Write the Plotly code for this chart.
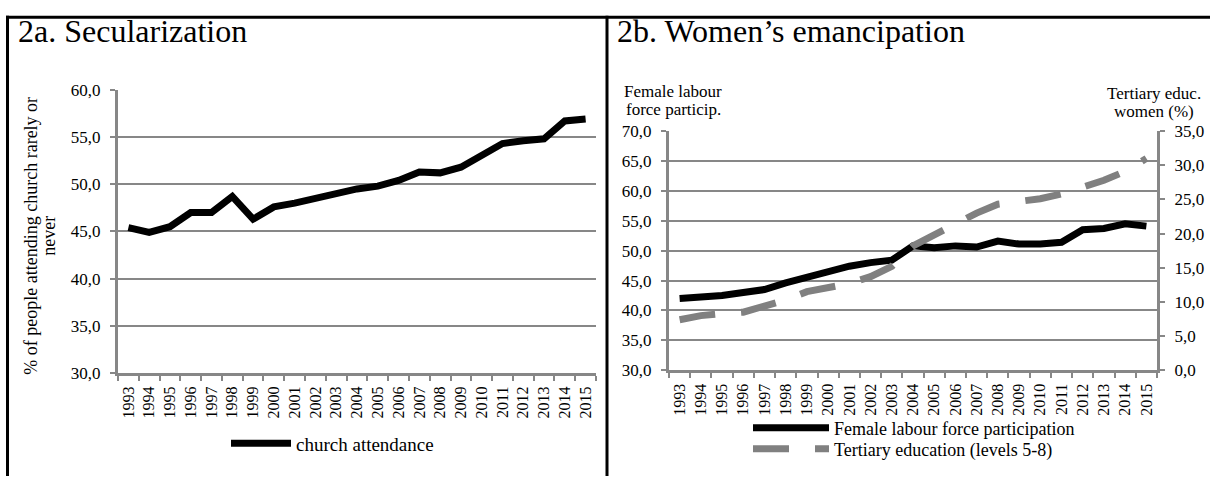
import plotly.graph_objects as go

W, H = 1210, 486

years = [str(y) for y in range(1993, 2016)]
church_attendance = [45.4, 44.9, 45.5, 47.0, 47.0, 48.7, 46.3, 47.6, 48.0, 48.5, 49.1, 49.5, 49.8,
                     50.4, 51.3, 51.2, 51.8, 53.0, 54.3, 54.6, 54.8, 56.7, 56.9]
female_labour = [42.0, 42.2, 42.5, 43.0, 43.5, 44.6, 45.6, 46.4, 47.4, 48.0, 48.4, 50.8, 50.5,
                 50.8, 50.6, 51.6, 51.1, 51.1, 51.4, 53.5, 53.7, 54.5, 54.1]
tertiary_edu = [7.4, 8.0, 8.3, 8.5, 9.4, 10.3, 11.5, 12.0, 12.7, 13.7, 15.2, 18.2, 19.8,
                21.6, 23.0, 24.3, 24.6, 25.1, 25.8, 26.8, 27.8, 29.1, 31.0]

left_ticks = [30, 35, 40, 45, 50, 55, 60]
right_left_ticks = [30, 35, 40, 45, 50, 55, 60, 65, 70]
right_right_ticks = [0, 5, 10, 15, 20, 25, 30, 35]

FONT = "Liberation Serif, Times New Roman, serif"
GRID = "#878787"


def px(x):
    return x / W


def py(y):
    return 1 - y / H


fig = go.Figure()

fig.add_trace(go.Scatter(x=years, y=church_attendance, mode="lines", name="church attendance",
                         line=dict(color="black", width=7), xaxis="x", yaxis="y",
                         legend="legend"))
fig.add_trace(go.Scatter(x=years, y=female_labour, mode="lines", name="Female labour force participation",
                         line=dict(color="black", width=7), xaxis="x2", yaxis="y2",
                         legend="legend2"))
fig.add_trace(go.Scatter(x=years, y=tertiary_edu, mode="lines", name="Tertiary education (levels 5-8)",
                         line=dict(color="#808080", width=7, dash="36px,26px"), xaxis="x2", yaxis="y3",
                         legend="legend3"))

xaxis_common = dict(type="category", range=[-0.5, 22.5], tickson="boundaries", ticks="outside",
                    ticklen=5, tickwidth=2, tickcolor=GRID, showline=True, linecolor=GRID,
                    linewidth=3, showgrid=False, tickangle=-90, zeroline=False,
                    ticklabelstandoff=4,
                    tickfont=dict(family=FONT, size=16, color="black"), fixedrange=True)
yaxis_common = dict(ticks="outside", ticklen=5, tickwidth=2, tickcolor=GRID, showline=True,
                    linecolor=GRID, linewidth=3, showgrid=True, gridcolor=GRID, gridwidth=2,
                    zeroline=False, tickformat=".1f", ticklabelstandoff=6,
                    tickfont=dict(family=FONT, size=17, color="black"), fixedrange=True)

legend_common = dict(xanchor="left", yanchor="middle", bgcolor="rgba(0,0,0,0)",
                     font=dict(family=FONT, size=18), tracegroupgap=0)

fig.update_layout(
    width=W, height=H, margin=dict(l=0, r=0, t=0, b=0),
    paper_bgcolor="white", plot_bgcolor="white",
    separators=", ",
    font=dict(family=FONT, size=16, color="black"),
    hovermode=False,
    xaxis=dict(xaxis_common, domain=[px(118), px(596)], anchor="y"),
    yaxis=dict(yaxis_common, domain=[py(379), py(84)], range=[30, 60], tickvals=left_ticks,
               anchor="x"),
    xaxis2=dict(xaxis_common, domain=[px(669), px(1157)], anchor="y2"),
    yaxis2=dict(yaxis_common, domain=[py(376), py(127)], range=[30, 70], tickvals=right_left_ticks,
                anchor="x2"),
    yaxis3=dict(yaxis_common, range=[0, 35], tickvals=right_right_ticks, overlaying="y2",
                side="right", anchor="x2", showgrid=False),
    legend=dict(legend_common, x=px(226), y=py(452), itemwidth=60, font=dict(family=FONT, size=19)),
    legend2=dict(legend_common, x=px(748), y=py(436), itemwidth=76),
    legend3=dict(legend_common, x=px(748), y=py(458), itemwidth=76),
    showlegend=True,
)

annotations = [
    dict(text="2a. Secularization", x=px(16), y=py(23), xanchor="left", yanchor="middle",
         font=dict(family=FONT, size=32)),
    dict(text="2b. Women’s emancipation", x=px(615), y=py(23), xanchor="left", yanchor="middle",
         font=dict(family=FONT, size=32)),
    dict(text="% of people attending church rarely or", x=px(31), y=py(236),
         xanchor="center", yanchor="middle", textangle=-90, font=dict(family=FONT, size=18)),
    dict(text="never", x=px(49), y=py(236),
         xanchor="center", yanchor="middle", textangle=-90, font=dict(family=FONT, size=18)),
    dict(text="Female labour", x=px(673), y=py(86), xanchor="center",
         yanchor="middle", font=dict(family=FONT, size=17)),
    dict(text="force particip.", x=px(673), y=py(105), xanchor="center",
         yanchor="middle", font=dict(family=FONT, size=17)),
    dict(text="Tertiary educ.", x=px(1154), y=py(88), xanchor="center",
         yanchor="middle", font=dict(family=FONT, size=17)),
    dict(text="women (%)", x=px(1154), y=py(107), xanchor="center",
         yanchor="middle", font=dict(family=FONT, size=17)),
]
for a in annotations:
    a.update(xref="paper", yref="paper", showarrow=False)
fig.update_layout(annotations=annotations)

shapes = [
    dict(type="line", x0=px(6), x1=px(1210), y0=py(8.5), y1=py(8.5)),
    dict(type="line", x0=px(7.5), x1=px(7.5), y0=py(7), y1=py(486)),
    dict(type="line", x0=px(607), x1=px(607), y0=py(7), y1=py(486)),
]
for s in shapes:
    s.update(xref="paper", yref="paper", line=dict(color="black", width=3), layer="above")
fig.update_layout(shapes=shapes)

post = ("document.documentElement.style.margin='0';document.body.style.margin='0';"
        "document.body.style.padding='0';document.body.style.overflow='hidden';"
        "var gd=document.getElementById('{plot_id}');gd.style.position='absolute';"
        "gd.style.left='0px';gd.style.top='0px';")
fig.write_html("out.html", post_script=post, config={"displayModeBar": False})
